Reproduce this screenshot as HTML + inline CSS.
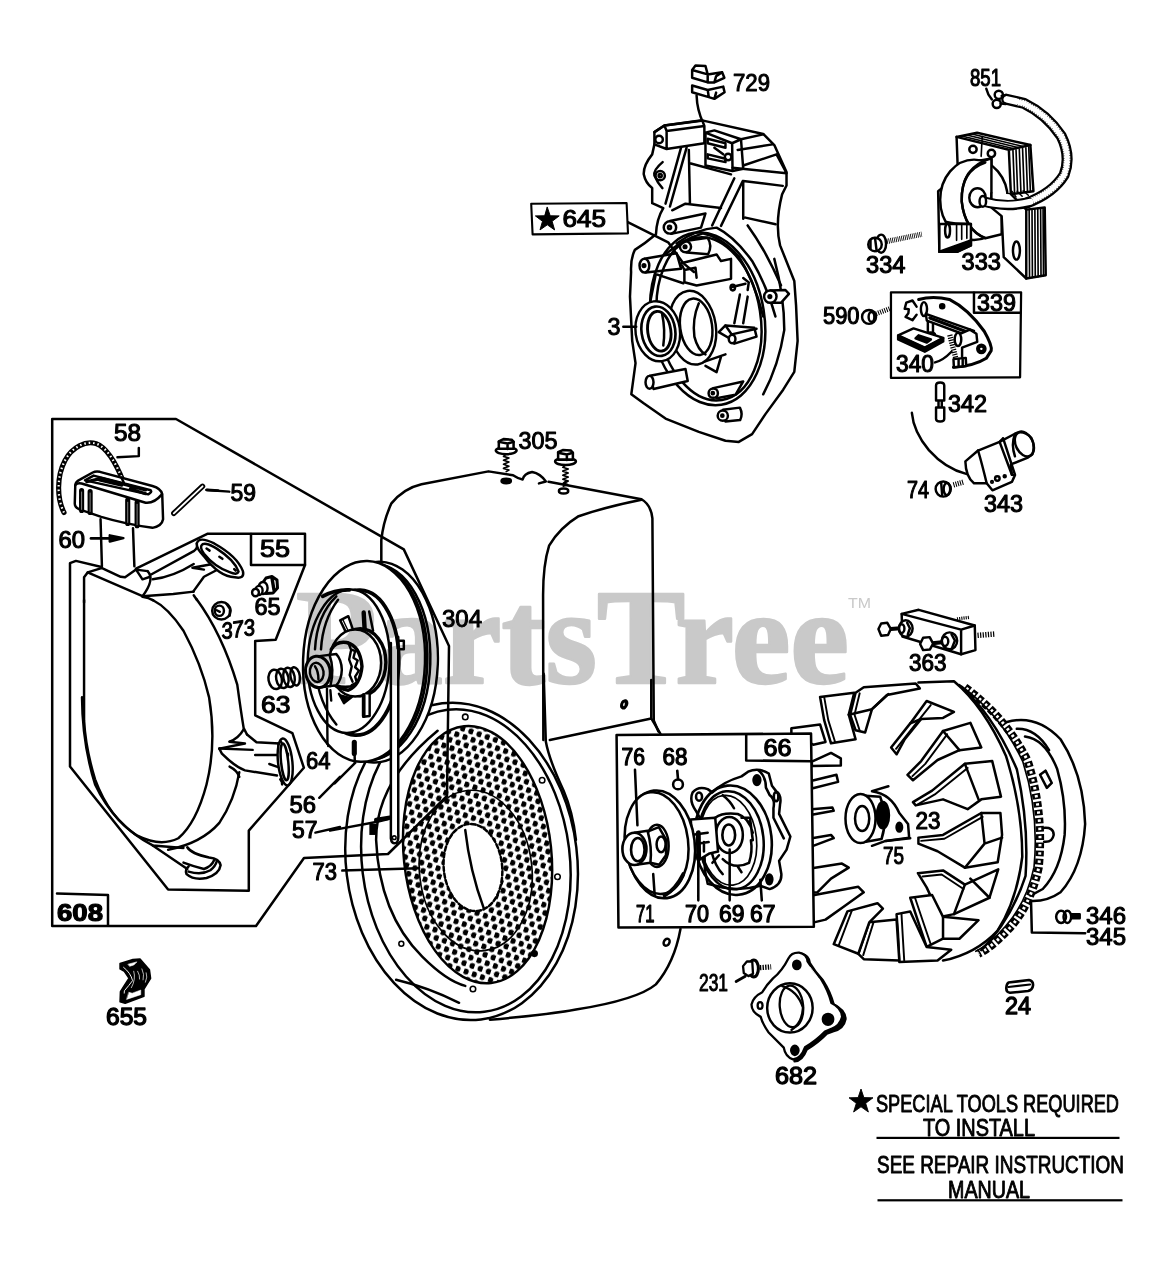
<!DOCTYPE html>
<html><head><meta charset="utf-8"><title>Parts diagram</title>
<style>
html,body{margin:0;padding:0;background:#fff;}
svg{display:block;font-family:"Liberation Sans",sans-serif;}
.l{fill:none;stroke:#000;stroke-linecap:round;stroke-linejoin:round}
.t{fill:#000;stroke:#000;font-size:23px;stroke-linejoin:round}
.w{fill:#fff;stroke:#000;stroke-linecap:round;stroke-linejoin:round}
.k{fill:#000;stroke:none}
</style></head><body>
<svg width="1171" height="1280" viewBox="0 0 1171 1280" stroke-width="1.9">
<rect width="1171" height="1280" fill="#fff"/>
<!-- 20_T1.svg -->
<g transform="translate(50,410) scale(0.170794)" class="l" stroke-width="14.5">
<!-- rope -->
<path d="M82,600 C40,520 38,390 88,295 C130,215 210,178 270,197 C340,222 390,320 432,425" stroke-width="30"/>
<path d="M82,600 C40,520 38,390 88,295 C130,215 210,178 270,197 C340,222 390,320 432,425" stroke="#fff" stroke-width="13" stroke-dasharray="9 17" stroke-linecap="butt"/>
<!-- 58 leader -->
<path d="M520,222 L520,270 L395,276"/>
<!-- handle -->
<path d="M148,440 Q150,420 175,408 L250,366 Q268,357 292,362 L600,445 Q650,460 657,492 L662,640 Q655,680 600,690 Q440,668 300,626 L172,582 Q145,570 145,548 Z" fill="#fff"/>
<path d="M150,438 Q160,425 185,430 L560,543 Q610,548 655,494"/>
<path d="M205,412 L255,384 L590,470 Q600,480 575,494 Z"/>
<path d="M215,420 L300,400 M300,400 L560,468 M290,410 L420,440 M470,462 L560,490" stroke-width="18"/>
<path d="M432,425 L418,395" stroke-width="14"/>
<path d="M185,472 L185,588 M235,478 L235,600 M455,528 L455,664 M510,542 L510,678" stroke-width="30"/>
<path d="M185,480 L185,582 M235,486 L235,594 M455,540 L455,658 M510,552 L510,672" stroke="#999" stroke-width="5"/>
<!-- stem -->
<path d="M296,640 L304,915 M486,692 L494,915"/>
<!-- 60 arrow -->
<path d="M240,752 L400,752" stroke-width="16"/>
<path d="M350,734 L430,750 L350,770 Z" fill="#000"/>
<!-- pin 59 -->
<path d="M725,605 L893,447" stroke-width="32"/>
<path d="M725,605 L893,447" stroke="#fff" stroke-width="11"/>
<path d="M915,468 L1050,478"/>
<path d="M920,468 L985,472" stroke-width="16"/>
</g>

<!-- 21_T2.svg -->
<g transform="translate(40,400) scale(0.256194)" class="l" stroke-width="9.6">
<path d="M172,790 L172,692 L186,673 L240,656"/>
<path d="M186,673 L400,766"/>
<path d="M240,655 L315,690 L332,692 L375,662 L420,668"/>
<path d="M375,662 L400,700 L430,690"/>
<path d="M420,668 Q450,700 400,766"/>
<path d="M432,682 L600,590 Q618,578 612,560"/>
<path d="M400,766 L520,757 L600,748"/>
<path d="M440,700 Q520,690 600,640"/>
<path d="M595,655 L685,638 M595,655 L640,662"/>
<path d="M400,768 Q425,772 442,782"/>
<path d="M598,748 L640,690 L735,640"/>
<path d="M600,762 L612,780"/>
<!-- flange -->
<path d="M612,560 Q620,530 680,560 Q770,610 792,668 Q800,700 760,692 Q700,690 640,610 Q610,580 612,560 Z" fill="#fff"/>
<path d="M630,568 Q640,550 690,580 Q760,625 775,670 Q770,685 740,672 Q680,650 640,600 Q625,580 630,568 Z"/>
<path d="M650,580 l12,8 M700,612 l12,8 M758,660 l6,6"/>
</g>

<!-- 22_T3.svg -->
<g transform="translate(40,600) scale(0.256194)" class="l" stroke-width="9.6">
<!-- front face D -->
<path d="M172,0 L172,470 Q178,580 215,700 Q270,850 380,920 Q470,965 540,930 Q610,870 650,720 Q690,560 660,380 Q630,250 560,120 Q500,30 440,0"/>
<!-- outer curve left -->
<path d="M164,380 Q165,560 215,720 Q290,880 440,958 L560,968"/>
<!-- outer curve right upper -->
<path d="M610,-5 Q710,130 770,330 Q785,440 795,500 L808,525"/>
<path d="M740,553 Q775,540 795,505"/>
<!-- outer curve right lower -->
<path d="M778,672 Q760,780 700,870 Q630,950 500,975"/>
<path d="M740,650 Q770,665 778,690"/>
<!-- arm lower right -->
<path d="M808,525 L845,555 L935,560"/>
<path d="M700,580 L800,560 L740,553"/>
<path d="M700,580 L710,600 Q760,650 800,665 L925,685"/>
<path d="M700,580 L830,585"/>
<path d="M840,605 L930,605 M895,640 L930,652"/>
<path d="M930,560 L945,720" />
<ellipse cx="957" cy="632" rx="28" ry="92" transform="rotate(-6 957 632)" fill="#fff"/>
<ellipse cx="955" cy="632" rx="14" ry="72" transform="rotate(-6 955 632)"/>
<path d="M940,552 l3,6 M938,700 l3,5 M968,600 l0,8"/>
<!-- bottom hook -->
<path d="M575,965 Q590,990 660,1005 Q700,1010 705,1035 Q700,1070 650,1085 Q600,1095 572,1070 Q565,1050 580,1040" stroke-width="10"/>
<path d="M560,1025 Q600,1040 640,1050 Q670,1040 680,1015"/>
<path d="M580,1060 Q630,1075 665,1055 Q685,1040 690,1020"/>
<path d="M440,958 L575,1050"/>
<!-- 373 nut -->
<ellipse cx="708" cy="42" rx="36" ry="34" fill="#fff"/>
<ellipse cx="700" cy="42" rx="18" ry="20"/>
<path d="M690,40 l12,6 M728,15 L742,35 L740,62"/>
<!-- 63 spring -->
<ellipse cx="918" cy="310" rx="26" ry="38" transform="rotate(-10 918 310)"/>
<ellipse cx="946" cy="306" rx="24" ry="38" transform="rotate(-10 946 306)"/>
<ellipse cx="972" cy="302" rx="22" ry="38" transform="rotate(-10 972 302)"/>
<ellipse cx="996" cy="298" rx="18" ry="36" transform="rotate(-10 996 298)"/>
<!-- leaders -->
<path d="M1125,345 L1125,570" />
<path d="M1090,772 L1171,690"/>
<path d="M1075,908 L1171,886"/>
</g>

<!-- 23_p65.svg -->
<g class="l" stroke-width="2.4">
<path d="M262.5,583 L266,578 L272,576.5 L277,580 L277.5,588 L273,593 L266,593.5 Z" fill="#fff" stroke-width="3"/>
<path d="M272,578 L274,590" stroke-width="3.4"/>
<ellipse cx="263" cy="588" rx="4.6" ry="6" fill="#fff"/>
<ellipse cx="259" cy="590.5" rx="3.6" ry="4.6" fill="#fff"/>
<ellipse cx="255.5" cy="592.5" rx="3.4" ry="3.8" fill="#fff"/>
</g>

<!-- 25_blower.svg -->
<defs>
<pattern id="dots" width="28" height="48" patternUnits="userSpaceOnUse" patternTransform="rotate(25)">
<circle cx="7" cy="12" r="9.3" fill="#000"/><circle cx="21" cy="36" r="9.3" fill="#000"/>
</pattern>
</defs>
<g transform="translate(360,420) scale(0.273269)" class="l" stroke-width="9.2">
<!-- housing body -->
<path d="M78,520 L78,440 Q85,370 115,305 Q160,250 225,235 L470,188 L560,202 Q580,215 595,218 Q600,195 630,190 Q660,195 680,225 L655,232 M690,226 L1030,290 Q1065,310 1070,360 L1075,1100 L1092,1140"/>
<path d="M1030,292 Q900,318 800,352 Q730,395 692,460 Q670,530 670,640 L671,1171"/>
<ellipse cx="535" cy="223" rx="17" ry="8" fill="#000"/>
<ellipse cx="745" cy="260" rx="17" ry="9"/>
<ellipse cx="965" cy="1042" rx="8" ry="13" transform="rotate(15 965 1042)"/>
<!-- bolts 305 -->
<g>
<path d="M535,125 l-10,8 l20,6 l-20,8 l20,7 l-20,8 l20,7 l-20,8 l20,6 l-10,6" stroke-width="6"/>
<ellipse cx="535" cy="112" rx="38" ry="13" fill="#fff"/>
<path d="M508,105 L508,78 L525,70 L555,72 L562,80 L562,105 Z" fill="#fff"/>
<path d="M508,80 L540,86 L562,80 M540,86 L540,106"/>
</g>
<g transform="translate(217,40)">
<path d="M535,125 l-10,8 l20,6 l-20,8 l20,7 l-20,8 l20,7 l-20,8 l20,6 l-10,6" stroke-width="6"/>
<ellipse cx="535" cy="112" rx="38" ry="13" fill="#fff"/>
<path d="M508,105 L508,78 L525,70 L555,72 L562,80 L562,105 Z" fill="#fff"/>
<path d="M508,80 L540,86 L562,80 M540,86 L540,106"/>
</g>
<path d="M752,225 l-8,6 l16,5 l-16,6" stroke-width="6"/>
</g>
<g transform="translate(330,680) scale(0.307428)" class="l" stroke-width="8.1">
<!-- front rings -->
<path d="M695,-20 L702,200 Q713,260 760,360 Q790,430 800,520"/>
<path d="M520,1105 Q700,1090 800,1072 Q1000,1040 1060,990 Q1120,920 1140,810"/>
<ellipse cx="428" cy="590" rx="376" ry="518" transform="rotate(-7 428 590)" fill="#fff"/>
<ellipse cx="442" cy="588" rx="338" ry="495" transform="rotate(-7 442 588)"/>
<path d="M350,165 Q150,330 150,520 Q160,760 300,900 Q380,980 440,995"/>
<path d="M215,975 Q320,1000 420,1050"/>
<ellipse cx="480" cy="568" rx="240" ry="420" transform="rotate(-6 480 568)" fill="url(#dots)" stroke-width="8"/>
<ellipse cx="474" cy="620" rx="183" ry="262" transform="rotate(-6 474 620)" stroke-width="5.5"/>
<ellipse cx="465" cy="610" rx="95" ry="142" transform="rotate(-6 465 610)" fill="#fff" stroke-dasharray="14 8"/>
<path d="M440,488 Q455,620 500,742"/>
<!-- bolt holes -->
<g stroke-width="5"><circle cx="440" cy="120" r="9"/><circle cx="690" cy="326" r="9"/><circle cx="740" cy="640" r="9"/><circle cx="665" cy="890" r="9" fill="#000"/><circle cx="465" cy="1005" r="9"/><circle cx="232" cy="858" r="8"/></g>
<ellipse cx="958" cy="78" rx="8" ry="12" transform="rotate(20 958 78)"/>
<ellipse cx="1095" cy="853" rx="9" ry="12" transform="rotate(30 1095 853)"/>
<path d="M715,195 L1045,125 L1045,0 M1045,125 L1075,175"/>
</g>

<!-- 30_pulley.svg -->
<g transform="translate(280,540) scale(0.170794)" class="l" stroke-width="14.5">
<!-- back flange & groove (right side arcs) -->
<ellipse cx="567" cy="715" rx="357" ry="588" fill="#fff" transform="rotate(2 567 715)"/>
<ellipse cx="535" cy="713" rx="345" ry="575" fill="#fff" transform="rotate(2 535 713)"/>
<ellipse cx="512" cy="712" rx="350" ry="582" fill="#fff" transform="rotate(2 512 712)" stroke-width="16"/>
<!-- front flange -->
<ellipse cx="492" cy="711" rx="357" ry="588" fill="#fff" transform="rotate(2 492 711)"/>
<!-- inner rings -->
<ellipse cx="455" cy="718" rx="240" ry="425" transform="rotate(2 455 718)" stroke-width="22"/>
<ellipse cx="402" cy="710" rx="240" ry="420" fill="#fff" transform="rotate(2 402 710)"/>
<path d="M205,640 Q215,440 330,330 M240,640 Q250,470 340,350"/>
<path d="M250,330 Q320,290 405,292" stroke-width="22"/>
<path d="M205,760 Q230,960 330,1080"/>
<!-- spokes -->
<path d="M352,470 L385,538 M400,446 L428,528 M352,470 L400,446"/>
<path d="M370,470 L398,530" stroke-width="8"/>
<path d="M490,425 L496,530" stroke-width="26"/>
<path d="M522,418 L545,532"/>
<path d="M700,590 L725,590 L725,640 L705,640"/>
<!-- hub discs -->
<ellipse cx="470" cy="716" rx="150" ry="196" fill="#fff" stroke-width="20"/>
<ellipse cx="440" cy="720" rx="152" ry="196" fill="#fff"/>
<path d="M488,905 L488,1035 L525,1030 L525,905" fill="#fff"/>
<path d="M490,910 L490,1030" stroke-width="22"/>
<path d="M345,900 L375,955 L420,920" fill="#000"/>
<!-- inner hub -->
<path d="M300,640 Q330,590 390,600 Q470,620 480,740 Q470,850 400,880 Q350,870 320,850" stroke-width="20"/>
<path d="M400,600 L415,640 L440,650 L430,690 L455,705 L440,745 L462,765 L440,800 L450,835 L420,850" stroke-width="14"/>
<path d="M415,650 L405,700 L420,740 L408,790 L425,830" stroke-width="14"/>
<path d="M330,850 Q380,870 440,850" stroke-width="16"/>
<!-- nut -->
<path d="M230,680 L330,668 Q360,700 362,760 Q360,820 330,850 L240,862 Z" fill="#fff"/>
<path d="M290,672 Q320,760 295,855"/>
<ellipse cx="222" cy="772" rx="72" ry="92" fill="#fff" transform="rotate(-8 222 772)" stroke-width="18"/>
<ellipse cx="215" cy="775" rx="40" ry="56" fill="#fff" transform="rotate(-8 215 775)"/>
<path d="M205,740 Q225,770 225,815"/>
<!-- 56 leader -->
<path d="M320,1425 L440,1305"/>
<path d="M435,1185 L435,1250" stroke-width="30"/>
<path d="M435,1180 L438,1300"/>
<!-- 64 leader -->
<path d="M275,870 L278,1195" stroke-width="14"/>
<path d="M295,880 L300,940" stroke-width="14"/>
</g>

<!-- 35_strap.svg -->
<g transform="translate(330,680) scale(0.307428)" class="l" stroke-width="8.1">
<!-- strap 57 -->
<path d="M198,-100 L198,515 Q200,535 215,530 Q224,525 222,500 L222,-100 Z" fill="#fff" stroke="none"/>
<path d="M198,-120 L198,515 Q200,535 215,530 Q224,525 222,500 L222,-140"/>
<circle cx="209" cy="513" r="6" stroke-width="5"/>
<path d="M0,490 L150,462 L190,452"/>
<rect x="128" y="468" width="24" height="36" fill="#000" stroke="none"/>
<path d="M150,455 L195,448" stroke-width="14"/>
<path d="M40,620 L290,612"/>
</g>

<!-- 36_outlines.svg -->
<g class="l" stroke-width="2.5">
<!-- 608 outline -->
<path d="M52.2,419 L176,419 L403.8,549.4 L449,646 L447,796 L388,854 L304,858 L256,926 L52.2,926 Z"/>
<!-- 608 box -->
<path d="M57,893.5 L108,895 L108,925"/>
<!-- 55 polygon -->
<path d="M207.8,533.7 L305,533.7 L305,565 L275.7,639.7 L255.2,641 L255.2,715.3 L292.4,733.2 L303.9,767.8 L248.8,830.6 L248.8,890.8 L168.1,889.5 L70,766.5 L70,563.2 L75.9,560.9 L101.5,567 M136,568.6 L207.8,533.7"/>
<path d="M251,534 L251,565 L305,565"/>
</g>

<!-- 42_flywheel.svg -->
<g transform="translate(790,660) scale(0.273269)" class="l" stroke-width="9.2">
<!-- back disc -->
<path d="M790,228 Q900,195 990,290 Q1075,420 1080,600 Q1070,760 990,850 Q940,885 880,882 L700,1070 L560,1100 L470,80 Z" fill="#fff" stroke="none"/>
<path d="M790,228 Q900,195 990,290 Q1075,420 1080,600 Q1070,760 990,850 Q940,885 880,882"/>
<path d="M860,280 Q935,290 978,400 Q1012,520 1005,640 Q990,770 925,838 L880,862"/>
<path d="M830,252 Q900,250 948,330"/>
<path d="M915,420 L935,405 L958,450 L940,468 Z M925,615 Q965,610 965,640 Q960,668 930,665"/>
<!-- ring gear -->
<path d="M640,100 Q790,210 870,370 Q930,560 910,760 Q880,900 800,985 Q740,1050 690,1075" stroke-width="30" stroke-dasharray="21 9" stroke-linecap="butt"/>
<path d="M640,100 Q790,210 870,370 Q930,560 910,760 Q880,900 800,985 Q740,1050 690,1075" stroke="#fff" stroke-width="11" stroke-dasharray="9 21" stroke-dashoffset="-6" stroke-linecap="butt"/>
<path d="M628,96 Q775,205 852,372 Q912,560 893,758 Q865,890 788,975 Q730,1040 680,1066" stroke-width="6"/>
<!-- rim -->
<path d="M470,82 L600,78 Q710,170 790,350 Q850,540 850,720 Q830,880 760,990 Q680,1075 560,1100 L300,600 Z" fill="#fff" stroke="none"/>
<path d="M470,82 L600,78 Q710,170 790,350 Q850,540 850,720 Q830,880 760,990 Q680,1075 560,1100"/>
<path d="M620,92 Q745,200 830,400 Q875,600 862,790 Q810,950 700,1062"/>
<!-- fins -->
<g fill="#fff">
<path d="M5,250 L110,236 L130,300 L85,310 L5,270 Z"/>
<path d="M110,135 L235,120 L215,200 L240,290 L150,305 L125,220 Z"/>
<path d="M240,120 L270,100 L460,86 L475,104 L355,128 L300,180 L275,265 L240,257 L220,200 Z"/>
<path d="M370,320 L440,232 L500,150 L600,190 L560,212 L480,216 L420,290 L390,345 Z"/>
<path d="M430,420 L480,370 L560,260 L660,230 L700,320 L620,330 L540,366 L450,440 Z"/>
<path d="M450,520 L520,478 L640,380 L740,370 L772,500 L700,510 L650,546 L560,510 L460,532 Z"/>
<path d="M470,650 L560,640 L700,560 L770,560 L776,640 L760,740 L640,760 L540,700 L470,672 Z"/>
<path d="M468,780 L560,770 L640,822 L762,766 L730,870 L600,930 L550,940 L500,832 Z"/>
<path d="M440,870 L520,860 L560,940 L690,952 L620,1020 L560,1020 L500,1050 L470,960 Z"/>
<path d="M390,930 L440,920 L500,1050 L590,1060 L540,1100 L400,1105 L395,1000 Z"/>
<path d="M290,960 L390,950 L400,1100 L270,1095 L250,1075 Z"/>
<path d="M210,920 L320,890 L340,910 L290,960 L250,1075 L160,1040 Z"/>
<path d="M80,862 L250,830 L270,850 L200,900 L130,950 L80,962 Z"/>
<path d="M80,762 L190,745 L215,760 L150,800 L100,850 L80,852 Z"/>
<path d="M80,652 L150,640 L160,652 L80,682 Z"/>
<path d="M80,546 L155,540 L160,552 L80,566 Z"/>
<path d="M80,442 L170,420 L176,446 L80,470 Z"/>
<path d="M80,372 L150,340 L186,360 L186,386 L80,388 Z"/>
</g>
<!-- fin folds -->
<path d="M560,260 L620,330 M640,380 L690,510 M700,560 L712,672 L640,760 M712,672 L776,650 M640,822 L600,930 M560,940 L560,1020 M300,180 L360,125 M215,200 L300,180 M480,216 L440,232 M660,800 L730,870"/>
<!-- fin thickness -->
<path d="M388,325 L455,240 L515,165 M448,425 L495,380 L575,272 M465,530 L530,492 L650,395 M480,662 L565,654 L705,574 M485,792 L555,785 L635,838 M458,872 L487,958 L515,1040 M408,930 L412,1000 L418,1100 M305,962 L268,1080 M226,918 L178,1045 M125,135 L140,220 L165,300 M255,122 L236,200 L255,258" stroke-width="7"/>
<!-- hub -->
<path d="M300,480 L360,462 M300,480 Q370,490 400,560 L432,600 L436,650 L350,662 L300,680" />
<path d="M250,495 L330,500 Q360,580 335,655 L262,668 Z" fill="#fff"/>
<ellipse cx="340" cy="568" rx="22" ry="48" fill="#000"/>
<ellipse cx="258" cy="580" rx="55" ry="90" fill="#fff"/>
<ellipse cx="264" cy="580" rx="26" ry="46"/>
<ellipse cx="400" cy="612" rx="10" ry="16" fill="#000"/>
<path d="M350,662 L440,652" />
<!-- 345 leader -->
<path d="M882,882 L885,997 L1080,1000"/>
<!-- 346 screw -->
<ellipse cx="992" cy="940" rx="18" ry="22"/><ellipse cx="1015" cy="940" rx="14" ry="22"/><path d="M1030,930 L1060,930 L1060,945 L1030,945 Z" fill="#000"/>
</g>
<g class="t" stroke-width="1.1">
<text x="915.5" y="828.5" textLength="25" lengthAdjust="spacingAndGlyphs">23</text>
<text x="883" y="864" textLength="21" lengthAdjust="spacingAndGlyphs">75</text>
<text x="1086" y="924" textLength="40" lengthAdjust="spacingAndGlyphs">346</text>
<text x="1086" y="945" textLength="40" lengthAdjust="spacingAndGlyphs">345</text>
</g>

<!-- 45_box66.svg -->
<g transform="translate(610,720) scale(0.187875)" class="l" stroke-width="13.5">
<path d="M35,80 L1070,72 L1085,1100 L45,1105 Z" fill="#fff"/>
<path d="M725,80 L725,215 L1068,220"/>
<!-- 67 housing -->
<path d="M440,385 Q470,350 520,368 L545,385 Q600,330 700,300 L735,275 Q790,250 845,285 L862,350 L885,380 Q915,400 905,450 L900,500 L960,620 L940,690 L900,750 L912,820 Q915,880 850,900 L800,882 Q700,910 600,892 L520,872 L505,800 L500,560 L455,480 Q420,430 440,385 Z" fill="#fff"/>
<path d="M790,268 Q830,300 830,360 L850,400 Q880,420 870,470 L870,520 L925,630"/>
<ellipse cx="655" cy="640" rx="205" ry="292" transform="rotate(-6 655 640)" stroke-width="14"/>
<ellipse cx="645" cy="640" rx="172" ry="262" transform="rotate(-6 645 640)"/>
<ellipse cx="630" cy="640" rx="150" ry="240" transform="rotate(-6 630 640)" stroke-width="9"/>
<ellipse cx="782" cy="320" rx="18" ry="26" fill="#000"/>
<ellipse cx="474" cy="408" rx="16" ry="22"/>
<ellipse cx="848" cy="848" rx="16" ry="26" fill="#000"/>
<ellipse cx="884" cy="408" rx="12" ry="24"/>
<!-- 69 ratchet -->
<path d="M600,400 Q640,430 660,470 M560,520 Q600,490 680,500 Q740,520 760,600 M700,520 L745,520 L760,640 M540,700 Q560,780 600,820 M600,740 Q660,800 740,760 Q760,700 750,640 M680,780 L700,810 M560,560 L575,620 M545,760 L580,720"/>
<ellipse cx="635" cy="612" rx="72" ry="96" fill="#fff"/>
<ellipse cx="632" cy="612" rx="34" ry="56" stroke-width="14"/>
<!-- 70 coupling -->
<path d="M430,530 L560,520 L575,700 L530,710 L480,740 L440,700 Z" fill="#fff"/>
<path d="M470,600 L472,740" stroke-width="26"/>
<path d="M450,610 L520,600 M455,660 L525,650 M500,650 L500,700"/>
<!-- 71 disc -->
<ellipse cx="268" cy="662" rx="183" ry="288" transform="rotate(-7 268 662)" fill="#fff" stroke-width="14"/>
<ellipse cx="248" cy="655" rx="168" ry="272" transform="rotate(-7 248 655)" fill="#fff"/>
<path d="M390,820 Q350,900 290,935" stroke-width="20"/>
<!-- nut + 76 bushing -->
<ellipse cx="250" cy="670" rx="62" ry="112" fill="#fff"/>
<path d="M210,590 L260,570 L300,640 L298,720 L262,770 L215,760"/>
<ellipse cx="272" cy="662" rx="24" ry="42"/>
<path d="M130,600 L200,590 L215,760 L140,770 Z" fill="#fff" stroke="none"/>
<path d="M130,600 L200,590 Q225,680 215,760 L140,770"/>
<ellipse cx="130" cy="686" rx="64" ry="86" fill="#fff" stroke-width="14"/>
<ellipse cx="148" cy="690" rx="36" ry="62" stroke-width="14"/>
<!-- 68 -->
<circle cx="362" cy="343" r="26" fill="#fff"/>
<path d="M358,270 L362,315" stroke-width="14"/>
<!-- leaders -->
<path d="M133,265 L146,560 M230,820 L238,935 M470,745 L470,960 M637,690 L637,960 M800,850 L808,960"/>
</g>
<g class="t" stroke-width="1.25">
<text x="763.5" y="755.7" textLength="28" lengthAdjust="spacingAndGlyphs">66</text>
<text x="621.5" y="765" textLength="23.5" lengthAdjust="spacingAndGlyphs">76</text>
<text x="662.5" y="764.5" textLength="25" lengthAdjust="spacingAndGlyphs">68</text>
<text x="636" y="922" textLength="18.5" lengthAdjust="spacingAndGlyphs">71</text>
<text x="685" y="922" textLength="24" lengthAdjust="spacingAndGlyphs">70</text>
<text x="719" y="922" textLength="25.5" lengthAdjust="spacingAndGlyphs">69</text>
<text x="750" y="922" textLength="25.5" lengthAdjust="spacingAndGlyphs">67</text>
</g>

<!-- 50_crankcase.svg -->
<g transform="translate(610,50) scale(0.222035)" class="l" stroke-width="11.2">
<!-- 729 -->
<path d="M370,90 L385,70 L430,72 L440,110 L505,100 L515,125 L470,146 L440,146 L370,125 Z M370,90 L440,110 L440,146 M470,146 L478,118 L505,100"/>
<path d="M370,160 L440,180 L510,165 L516,190 L470,220 L445,212 L370,190 Z M440,180 L445,212 M470,220 L478,192"/>
<path d="M390,205 Q392,270 420,330 L445,385"/>
<!-- silhouette -->
<path d="M200,425 L190,470 Q150,520 152,560 Q160,600 190,622 L190,690 L240,712 Q210,760 207,830 Q160,870 112,900 Q92,940 95,1000 L90,1110 L100,1310 L115,1410 L96,1550 L150,1590 L250,1660 L400,1720 L520,1760 L580,1765 L640,1730 L700,1640 L780,1530 L830,1450 L845,1310 L838,1150 L830,1040 L766,880 Q742,780 775,650 L795,610 L795,550 L740,428 L690,378 L420,318 L245,340 L200,370 Z" fill="#fff"/>
<!-- upper-left boss -->
<path d="M200,370 L245,340 L415,316 L425,342 L425,420 L255,446 L200,425 M255,446 L255,365 L425,342 M245,340 L255,365"/>
<circle cx="221" cy="403" r="17"/>
<path d="M237,505 Q195,540 200,565 Q215,600 236,622"/><circle cx="226" cy="566" r="21"/><circle cx="226" cy="566" r="7"/>
<!-- connector block -->
<path d="M430,372 L550,420 L552,545 L430,520 Z M430,372 L470,362 L590,402 L550,420 M552,545 L600,535 L590,402"/>
<path d="M440,400 L520,420 L520,440 L440,420 Z M440,470 L520,490 L520,505 L440,488 Z M470,440 L510,470"/>
<circle cx="532" cy="482" r="15"/>
<!-- top-right lines -->
<path d="M590,402 L690,380 M575,450 L732,425 M600,520 L750,470 L790,545 M552,530 L795,555 M600,590 L778,612 M600,590 L600,760 M610,755 L746,785"/>
<!-- ribs -->
<path d="M345,440 L270,705 M320,440 L250,692 M560,578 L460,790 M598,590 L500,792"/>
<path d="M355,450 L360,690 M360,510 L545,560 M280,722 L340,692 L500,712"/>
<!-- ring arcs -->
<path d="M250,920 Q330,850 420,826 Q500,840 580,930 Q650,1040 690,1200"/>
<path d="M300,872 Q390,805 480,800 Q560,840 640,950 Q710,1070 745,1200"/>
<path d="M620,790 Q700,900 770,1060"/>
<!-- bosses -->
<path d="M270,770 L430,736 L410,800 L275,828 Z" fill="#fff"/><circle cx="270" cy="799" r="28" fill="#fff"/><circle cx="268" cy="799" r="7"/>
<path d="M340,860 L440,846 Q462,880 442,920 L345,912 Z" fill="#fff"/><circle cx="340" cy="886" r="25" fill="#fff"/><circle cx="338" cy="886" r="6"/>
<path d="M155,940 L300,915 L320,985 L160,1002 Z" fill="#fff"/><ellipse cx="155" cy="971" rx="22" ry="31" fill="#fff"/><circle cx="153" cy="971" r="6"/>
<!-- 645 leader -->
<path d="M80,775 L262,866 L330,960 L378,1000"/>
<!-- lower half -->
<g transform="translate(0,810.7)">
<path d="M320,150 L480,110 L500,140 L545,130 L545,220 L390,250 L335,235 L335,180 Z M320,150 L335,180 L385,170 L390,215"/>
<path d="M210,200 L330,240 M205,205 L180,330 M545,258 L610,242 M600,216 L625,236 L620,270 M585,290 L560,420 M620,300 L600,420"/>
<ellipse cx="553" cy="259" rx="10" ry="13"/>
<!-- big ring -->
<ellipse cx="440" cy="400" rx="255" ry="392" transform="rotate(-9 440 400)"/>
<ellipse cx="446" cy="400" rx="232" ry="370" transform="rotate(-9 446 400)"/>
<path d="M740,130 Q785,300 785,450 Q760,610 690,740"/>
<!-- right boss -->
<path d="M722,272 L790,270 L806,288 L770,328 L722,328 Z" fill="#fff"/><circle cx="722" cy="300" r="28" fill="#fff"/><circle cx="720" cy="300" r="6"/>
<!-- mid block -->
<path d="M490,460 L520,430 L650,440 L660,480 L560,512 L545,492 Z" fill="#fff"/><path d="M520,430 L548,470 L660,445"/><ellipse cx="550" cy="491" rx="15" ry="19" fill="#fff"/>
<path d="M500,570 L480,640 L430,612 M520,560 L400,602"/>
<!-- bearing -->
<ellipse cx="372" cy="440" rx="105" ry="167" transform="rotate(-8 372 440)" fill="#fff" stroke-width="11"/>
<ellipse cx="388" cy="436" rx="72" ry="128" transform="rotate(-8 388 436)"/>
<path d="M400,330 Q370,400 380,480 Q395,540 430,560"/>
<!-- seal 3 -->
<ellipse cx="215" cy="456" rx="100" ry="136" transform="rotate(-8 215 456)" fill="#fff" stroke-width="11"/>
<ellipse cx="218" cy="456" rx="76" ry="112" transform="rotate(-8 218 456)" stroke-width="12"/>
<ellipse cx="222" cy="456" rx="52" ry="90" transform="rotate(-8 222 456)" stroke-width="13"/>
<path d="M235,380 Q250,450 240,520"/>
<path d="M60,436 L118,436"/>
<!-- lower bosses -->
<path d="M180,656 L340,626 L350,680 L196,716 Z" fill="#fff"/><ellipse cx="178" cy="686" rx="18" ry="29" fill="#fff"/>
<path d="M465,712 L600,682 L565,742 L480,758 Z" fill="#fff"/><circle cx="465" cy="735" r="21" fill="#fff"/><circle cx="463" cy="735" r="5"/>
<path d="M508,810 L585,800 Q600,830 586,856 L520,862 Z" fill="#fff"/><circle cx="508" cy="836" r="23" fill="#fff"/><circle cx="506" cy="836" r="5"/>
</g>
</g>
<g class="t" stroke-width="1.0">
<text x="733" y="91" textLength="37" lengthAdjust="spacingAndGlyphs">729</text>
<text x="607.5" y="334.5" textLength="13" lengthAdjust="spacingAndGlyphs">3</text>
</g>

<!-- 55_armature.svg -->
<g transform="translate(850,60) scale(0.204960)" class="l" stroke-width="12">
<!-- cable 851 -->
<path d="M650,690 Q760,720 860,698 Q990,650 1045,560 Q1080,470 1030,370 Q960,265 850,212 L765,192" stroke-width="54"/>
<path d="M650,690 Q760,720 860,698 Q990,650 1045,560 Q1080,470 1030,370 Q960,265 850,212 L765,192" stroke="#fff" stroke-width="32"/>
<path d="M650,690 Q760,720 860,698 Q990,650 1045,560 Q1080,470 1030,370 Q960,265 850,212 L820,200" stroke="#000" stroke-width="40" stroke-dasharray="3 9" stroke-linecap="butt" opacity=".8"/>
<path d="M650,690 Q760,720 860,698 Q990,650 1045,560 Q1080,470 1030,370 Q960,265 850,212 L765,192" stroke="#fff" stroke-width="22"/>
<circle cx="726" cy="170" r="20" fill="#fff"/><circle cx="716" cy="214" r="20" fill="#fff"/>
<path d="M740,175 L760,170 M735,212 L760,215"/>
<path d="M665,140 Q672,170 692,192"/>
<!-- upper block -->
<path d="M520,375 L620,355 L880,415 L895,640 L785,655 L690,650 L690,480 L525,510 Z" fill="#fff"/>
<path d="M520,375 L775,438 L785,655 M775,438 L880,415"/>
<path d="M545,371 L795,432 M570,366 L820,427 M595,361 L845,422 M645,372 L640,470" stroke-width="8"/>
<path d="M795,441 L803,650 M810,438 L818,649 M826,435 L834,647 M842,432 L850,646 M858,428 L866,644 M872,424 L880,642" stroke-width="8"/>
<path d="M790,640 L810,668 M815,640 L840,665 M845,638 L870,660" stroke-width="7"/>
<circle cx="600" cy="436" r="18"/><circle cx="690" cy="456" r="18"/>
<!-- lower-left leg -->
<path d="M430,640 L470,608 L470,800 L590,800 L590,885 L520,932 L436,936 Z" fill="#fff"/>
<path d="M440,934 L590,880 L590,905 L522,936 Z" fill="#000"/>
<path d="M520,790 L520,880 M545,800 L545,875 M570,810 L570,870" stroke-width="8"/>
<ellipse cx="476" cy="832" rx="12" ry="34" stroke-width="12"/>
<!-- coil -->
<ellipse cx="605" cy="682" rx="165" ry="196" fill="#fff"/>
<path d="M690,480 Q540,520 545,690 Q560,830 660,870 L740,850 L740,760 L690,690 Z" fill="#fff"/>
<path d="M660,500 Q540,540 545,690 Q560,830 660,868"/>
<path d="M436,800 L590,800 L590,885 L520,932 L436,936 Z" fill="#fff"/>
<path d="M440,934 L590,880 L590,905 L522,936 Z" fill="#000"/>
<path d="M520,800 L520,880 M545,800 L545,875 M570,805 L570,870" stroke-width="8"/>
<path d="M500,800 L590,880" stroke="none"/>
<ellipse cx="476" cy="832" rx="12" ry="34" stroke-width="12"/>
<path d="M470,790 Q500,800 590,800" />
<!-- lower-right leg -->
<path d="M690,650 L690,720 L740,762 L750,962 L860,1066 L955,1050 L950,720 L860,730 L785,655" fill="#fff"/>
<path d="M860,730 L860,1066"/>
<path d="M874,729 L876,1063 M888,728 L890,1061 M902,726 L904,1059 M916,724 L918,1057 M930,723 L932,1055 M942,722 L944,1053" stroke-width="8"/>
<ellipse cx="812" cy="930" rx="17" ry="44" stroke-width="12"/>
<!-- cable front end -->
<path d="M650,690 Q760,722 870,696" stroke-width="50"/>
<path d="M640,688 Q760,722 880,692" stroke="#fff" stroke-width="30"/>
<ellipse cx="622" cy="672" rx="40" ry="46" fill="#fff"/>
<ellipse cx="648" cy="690" rx="16" ry="26" fill="#fff"/>
<!-- 334 screw -->
<path d="M180,885 L350,850" stroke-width="26" stroke-dasharray="4 5" stroke-linecap="butt"/>
<ellipse cx="152" cy="896" rx="24" ry="44" fill="#fff"/>
<circle cx="122" cy="900" r="33" fill="#fff"/>
<path d="M122,868 L130,932 M100,880 L100,922"/>
</g>
<g class="t" stroke-width="1.1">
<text x="970" y="85.5" textLength="31" lengthAdjust="spacingAndGlyphs">851</text>
<text x="866" y="273" textLength="39.5" lengthAdjust="spacingAndGlyphs">334</text>
<text x="961.5" y="270" textLength="39.5" lengthAdjust="spacingAndGlyphs">333</text>
</g>

<!-- 60_breaker.svg -->
<g transform="translate(810,280) scale(0.204960)" class="l" stroke-width="12">
<path d="M395,60 L1030,60 L1025,475 L395,478 Z" stroke-width="11"/>
<path d="M800,62 L800,160 L1026,160"/>
<!-- 590 screw -->
<path d="M322,165 L388,140" stroke-width="24" stroke-dasharray="5 6" stroke-linecap="butt"/>
<circle cx="288" cy="180" r="34" fill="#fff" stroke-width="12"/><ellipse cx="300" cy="180" rx="14" ry="24"/>
<!-- plate -->
<path d="M530,95 Q600,75 680,95 Q770,140 850,250 Q890,320 884,345 L860,382 L780,420 L700,426 L700,300 L560,230 L520,170 L500,196 L466,180 L470,110 L500,100 L520,130 Z" fill="#fff" stroke="none"/>
<path d="M530,95 Q600,75 680,95 Q770,140 850,250 Q890,320 884,345 L860,382 Q800,420 700,426" stroke-width="15"/>
<path d="M520,130 L500,100 L470,110 L462,140 L482,142 L480,162 L466,180 L500,196 L520,170"/>
<ellipse cx="556" cy="142" rx="15" ry="34" stroke-width="12"/>
<circle cx="645" cy="128" r="10" fill="#000"/>
<!-- arm -->
<path d="M565,165 L800,248 L770,272 L570,198 Z" fill="#fff"/>
<path d="M585,185 L770,255" stroke-width="16"/>
<path d="M575,205 L575,262 M600,215 L600,262"/>
<ellipse cx="588" cy="268" rx="22" ry="12" fill="#fff"/>
<!-- base plate -->
<path d="M430,270 L505,236 L650,282 L560,330 Z" fill="#fff"/>
<path d="M430,272 L560,332 L650,284 L650,300 L560,350 L430,290 Z" fill="#000"/>
<path d="M530,270 L590,290 L570,305 L515,285 Z" fill="#000"/>
<!-- right block -->
<path d="M712,272 L780,242 L812,262 L816,302 L742,330 L742,400" fill="#fff"/>
<ellipse cx="722" cy="290" rx="16" ry="32" fill="#fff"/>
<circle cx="836" cy="336" r="20" fill="#000"/><circle cx="836" cy="336" r="6" fill="#fff" stroke="none"/>
<path d="M682,268 L712,385" stroke-width="26" stroke-dasharray="6 6" stroke-linecap="butt"/>
<path d="M700,386 L760,380 L762,420 L702,426 Z" fill="#fff"/><path d="M725,385 L725,420 M745,382 L745,420"/>
<!-- 340 leader -->
<path d="M610,402 Q650,392 690,350"/>
<!-- 342 -->
<path d="M615,515 Q615,500 635,500 Q655,500 655,515 L655,588 L615,588 Z M615,622 L655,622 L655,678 Q655,690 635,690 Q615,690 615,678 Z M627,588 L627,622 M643,588 L643,622" fill="#fff"/>
<!-- wire -->
<path d="M497,648 Q505,740 580,830 Q660,920 762,946"/>
<!-- 343 condenser -->
<path d="M758,885 L820,832 L925,790 L1000,750 Q1040,730 1080,770 Q1100,810 1085,850 L1060,868 L980,900 L985,950 L1000,952 L985,985 L890,1026 L862,992 L800,992 Q760,960 758,885 Z" fill="#fff"/>
<path d="M820,832 Q840,900 862,992 M925,790 L985,950 M942,772 L1000,950 M925,790 L942,772"/>
<ellipse cx="1046" cy="800" rx="42" ry="64" transform="rotate(-25 1046 800)"/>
<path d="M1000,752 Q980,800 1000,860"/>
<circle cx="914" cy="968" r="11" stroke-width="12"/><circle cx="950" cy="958" r="5" fill="#000"/><circle cx="888" cy="985" r="4" fill="#000"/>
<!-- 74 -->
<path d="M700,1000 L752,985" stroke-width="26" stroke-dasharray="5 6" stroke-linecap="butt"/>
<circle cx="650" cy="1020" r="37" fill="#fff" stroke-width="12"/><ellipse cx="668" cy="1020" rx="16" ry="30"/><path d="M640,990 L645,1050"/>
</g>
<g class="t" stroke-width="1.1">
<text x="977" y="311" textLength="39" lengthAdjust="spacingAndGlyphs">339</text>
<text x="823" y="324" textLength="36.5" lengthAdjust="spacingAndGlyphs">590</text>
<text x="896" y="372" textLength="38" lengthAdjust="spacingAndGlyphs">340</text>
<text x="948" y="411.5" textLength="39" lengthAdjust="spacingAndGlyphs">342</text>
<text x="907" y="497.5" textLength="22" lengthAdjust="spacingAndGlyphs">74</text>
<text x="984" y="512" textLength="39" lengthAdjust="spacingAndGlyphs">343</text>
</g>

<!-- 62_p363.svg -->
<g transform="translate(860,590) scale(0.136635)" class="l" stroke-width="18">
<path d="M710,212 L800,200" stroke-width="24" stroke-dasharray="8 8" stroke-linecap="butt"/>
<path d="M860,332 L990,322" stroke-width="40" stroke-dasharray="9 10" stroke-linecap="butt"/>
<path d="M305,175 L430,145 L840,260 L845,440 L740,470 L310,340 Z" fill="#fff"/>
<path d="M305,175 L740,290 L740,470 M740,290 L840,260"/>
<path d="M225,285 L295,280" stroke-width="30"/>
<path d="M135,285 L155,245 L200,240 L225,285 L205,330 L155,335 Z" fill="#fff"/>
<ellipse cx="335" cy="282" rx="50" ry="60" fill="#fff"/><ellipse cx="305" cy="282" rx="20" ry="32"/><path d="M345,240 L365,280 L350,325"/>
<path d="M530,390 L600,382" stroke-width="30"/>
<path d="M440,395 L462,350 L510,345 L535,392 L512,435 L462,440 Z" fill="#fff"/>
<ellipse cx="655" cy="372" rx="56" ry="62" fill="#fff" stroke-width="18"/><ellipse cx="622" cy="376" rx="24" ry="34"/><path d="M670,325 L695,370 L675,420"/>
</g>
<g class="t" stroke-width="1.1"><text x="909" y="671" textLength="37.5" lengthAdjust="spacingAndGlyphs">363</text></g>

<!-- 64_p682.svg -->
<g transform="translate(690,940) scale(0.153714)" class="l" stroke-width="15">
<path d="M655,135 Q675,85 725,88 Q775,100 780,150 Q815,210 865,262 Q915,340 935,420 Q1010,455 1012,515 Q1000,580 930,595 L890,610 Q830,672 760,712 Q730,790 680,790 Z" fill="#000"/>
<path d="M640,120 Q660,80 710,82 Q760,90 765,140 Q800,200 850,250 Q900,330 920,410 Q985,440 990,500 Q975,560 920,578 L878,596 Q820,656 748,698 Q720,775 670,776 Q620,760 610,700 Q560,650 510,600 Q470,540 460,500 Q400,470 400,420 Q410,370 470,340 Q500,290 540,250 Q600,200 640,120 Z" fill="#fff"/>
<path d="M780,175 Q870,280 905,420" stroke="#fff" stroke-width="6"/>
<ellipse cx="650" cy="442" rx="148" ry="160" stroke-width="16"/>
<ellipse cx="660" cy="432" rx="76" ry="136" transform="rotate(-5 660 432)"/>
<path d="M600,300 Q700,330 735,440 Q730,540 660,585"/>
<ellipse cx="695" cy="162" rx="24" ry="28" fill="#000"/>
<ellipse cx="456" cy="426" rx="16" ry="22"/>
<ellipse cx="898" cy="516" rx="34" ry="36" fill="#000"/>
<ellipse cx="682" cy="718" rx="24" ry="30" fill="#000"/>
<!-- 231 -->
<path d="M455,180 L528,175" stroke-width="34" stroke-dasharray="9 8" stroke-linecap="butt"/>
<ellipse cx="415" cy="185" rx="30" ry="55" fill="#fff" stroke-width="20"/>
<path d="M345,170 L370,140 L405,140 L410,220 L380,235 L350,215 Z" fill="#fff"/>
<path d="M300,270 L360,236" stroke-width="18"/>
</g>
<g class="t" stroke-width="1"><text x="699" y="990.5" textLength="29" lengthAdjust="spacingAndGlyphs">231</text>
<text x="775" y="1083.5" textLength="42" lengthAdjust="spacingAndGlyphs" stroke-width="1.3">682</text></g>

<!-- 66_small.svg -->
<!-- key 24 -->
<g class="l">
<path d="M1008.5,982.5 L1029,980 Q1033.5,981 1033,985.5 Q1032.5,990 1028,991 L1010,992.8 Q1006,992 1006.3,988 Q1006.5,984 1008.5,982.5 Z" stroke-width="2.6" fill="#fff"/>
<path d="M1008.5,987 L1030,984.5" stroke-width="2.2"/>
</g>
<g class="t" stroke-width="1.3"><text x="1005" y="1014" textLength="26" lengthAdjust="spacingAndGlyphs">24</text>
<text x="106" y="1025" textLength="41" lengthAdjust="spacingAndGlyphs">655</text></g>
<!-- 655 -->
<g transform="translate(90,940) scale(0.078125)" class="l" stroke-width="14">
<path d="M385,300 L550,250 L640,245 L760,380 L775,490 L690,630 L690,720 L450,810 L385,790 L390,660 L440,580 L500,490 L440,400 L385,370 Z" fill="#000" stroke-width="20"/>
<path d="M430,350 Q520,420 545,520 Q500,580 440,650 L438,680" stroke="#fff" stroke-width="12"/>
<path d="M490,310 L600,280 L560,320 L510,335 Z" fill="#fff" stroke="#fff" stroke-width="8"/>
<path d="M470,760 L650,700 L650,640 L540,680 L500,670 Z" fill="#fff" stroke="#fff" stroke-width="6"/>
<path d="M560,400 Q590,500 530,610 M610,400 Q640,450 635,500 M665,370 Q700,440 680,510 M720,420 Q740,470 710,540" stroke="#fff" stroke-width="9"/>
</g>

<!-- 68_p645.svg -->
<g class="l" stroke-width="2.1">
<path d="M531.2,203.7 L626.6,203 L628,233.4 L532.6,234.4 Z" fill="#fff"/>
<path d="M547.3,207.3 L550.2,215.8 L559.2,215.9 L552.1,221.3 L554.6,229.9 L547.3,224.8 L540.0,229.9 L542.5,221.3 L535.4,215.9 L544.4,215.8 Z" fill="#000" stroke-width="1"/>
</g>
<g class="t" stroke-width="1.1"><text x="562.5" y="226.5" textLength="43.5" lengthAdjust="spacingAndGlyphs">645</text>
<text x="518.5" y="449" textLength="39" lengthAdjust="spacingAndGlyphs" stroke-width="1.0">305</text>
<text x="442" y="627" textLength="40" lengthAdjust="spacingAndGlyphs" stroke-width="1.0">304</text>
</g>

<!-- 80_labels.svg -->
<g class="t" stroke-width="1.1">
<text x="114" y="441" textLength="27" lengthAdjust="spacingAndGlyphs">58</text>
<text x="230.5" y="500.5" textLength="25.5" lengthAdjust="spacingAndGlyphs">59</text>
<text x="58.5" y="548" textLength="26.5" lengthAdjust="spacingAndGlyphs">60</text>
<text x="260" y="557" textLength="30" lengthAdjust="spacingAndGlyphs">55</text>
<text x="254.5" y="614.5" textLength="26" lengthAdjust="spacingAndGlyphs">65</text>
<text x="221" y="637" textLength="34" lengthAdjust="spacingAndGlyphs" transform="rotate(-8 238 630)" font-style="italic">373</text>
<text x="261" y="712.5" textLength="29.5" lengthAdjust="spacingAndGlyphs">63</text>
<text x="306" y="769" textLength="24.5" lengthAdjust="spacingAndGlyphs">64</text>
<text x="289.5" y="813" textLength="26.5" lengthAdjust="spacingAndGlyphs">56</text>
<text x="292" y="838" textLength="25.5" lengthAdjust="spacingAndGlyphs">57</text>
<text x="312.5" y="880" textLength="24.5" lengthAdjust="spacingAndGlyphs">73</text>
<text x="57" y="920.5" textLength="46" lengthAdjust="spacingAndGlyphs" font-weight="bold">608</text>
</g>

<!-- 90_notes.svg -->
<g fill="#000" stroke="#000" stroke-width=".9" stroke-linejoin="round">
<path d="M861,1089 L863.9,1097.6 L873,1097.8 L865.7,1103.3 L868.4,1112 L861,1106.8 L853.6,1112 L856.3,1103.3 L849,1097.8 L858.1,1097.6 Z"/>
<text x="876" y="1111.5" font-size="23.5" textLength="243" lengthAdjust="spacingAndGlyphs">SPECIAL TOOLS REQUIRED</text>
<text x="923" y="1135.5" font-size="23.5" textLength="112" lengthAdjust="spacingAndGlyphs">TO INSTALL</text>
<text x="877" y="1173" font-size="23.5" textLength="247" lengthAdjust="spacingAndGlyphs">SEE REPAIR INSTRUCTION</text>
<text x="948" y="1197.5" font-size="23.5" textLength="82" lengthAdjust="spacingAndGlyphs">MANUAL</text>
<rect x="876.5" y="1136.8" width="243" height="2.2" stroke="none"/>
<rect x="877.5" y="1199.2" width="245" height="2.2" stroke="none"/>
</g>

<!-- 95_watermark.svg -->
<g style="mix-blend-mode:multiply" fill="#c9c9c9" stroke="#c9c9c9" stroke-width="2.5" stroke-linejoin="round">
<text x="296" y="683" font-family="Liberation Serif, serif" font-weight="bold" font-size="136" textLength="553" lengthAdjust="spacingAndGlyphs">PartsTree</text>
<text x="848" y="608" stroke="none" font-size="15" textLength="23" lengthAdjust="spacingAndGlyphs">TM</text>
</g>

</svg>
</body></html>
